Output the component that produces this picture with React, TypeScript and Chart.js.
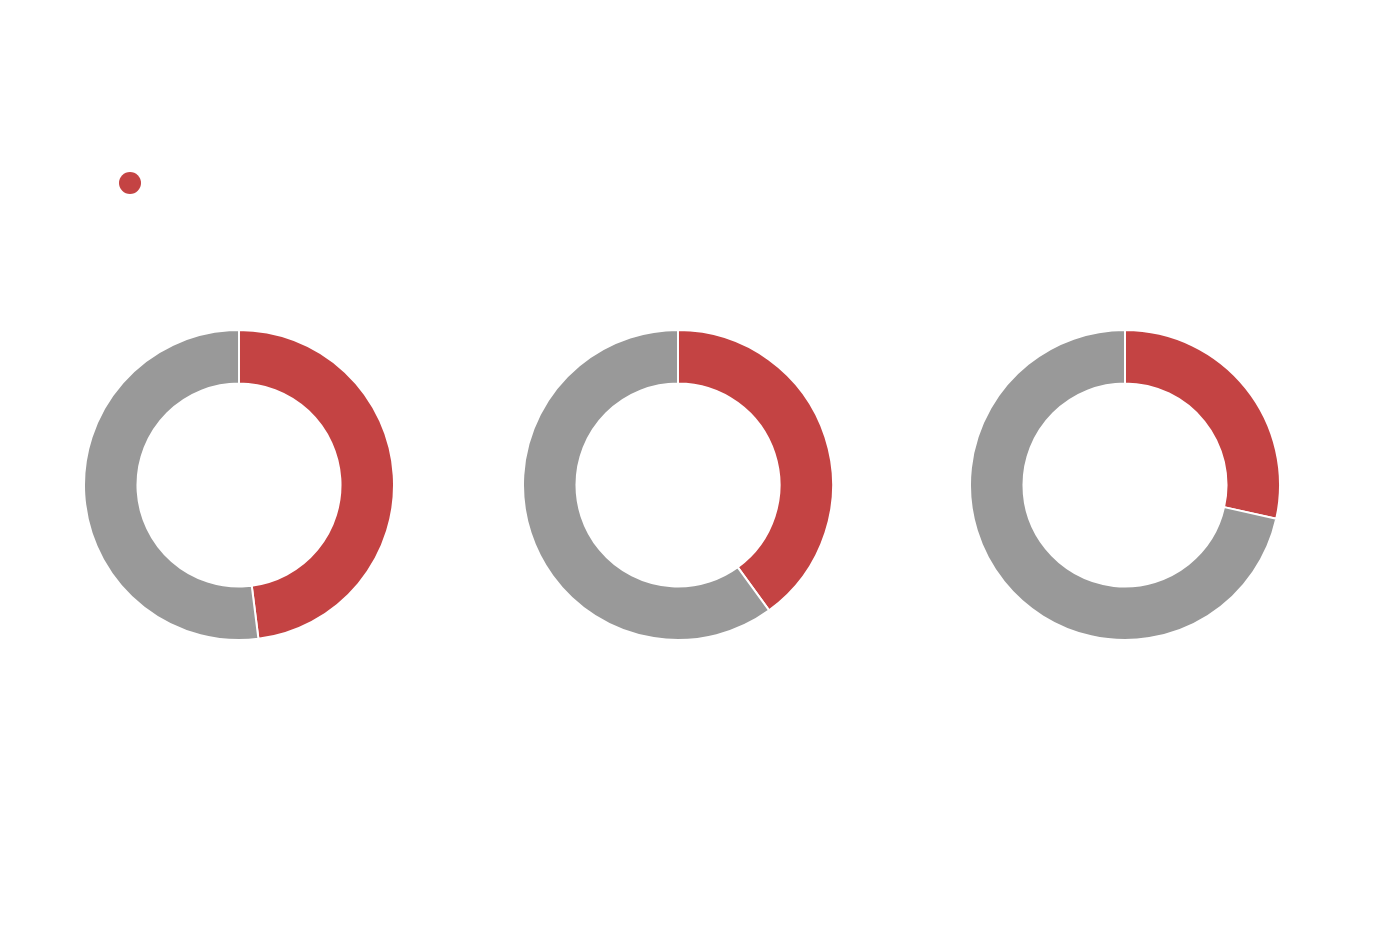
import React, { useEffect, useRef, useState } from "react";
import { Chart, registerables } from "chart.js";

Chart.register(...registerables);

const categories = ["", ""];
const chartValues = [
  [48, 52],
  [40, 60],
  [28.5, 71.5],
];
const colors = ["#C44343", "#999999"];

const centersX = [239, 678, 1125];
const centerY = 485;
const size = 312;

type LegendItem = { text: string; color: string };

function Donut({ values, left, onLegend }: { values: number[]; left: number; onLegend?: (items: LegendItem[]) => void }) {
  const ref = useRef<HTMLCanvasElement | null>(null);
  useEffect(() => {
    if (!ref.current) return;
    const chart = new Chart(ref.current, {
      type: "doughnut",
      data: {
        labels: categories,
        datasets: [
          {
            data: values,
            backgroundColor: colors,
            borderColor: "#ffffff",
            borderWidth: 2,
          },
        ],
      },
      options: {
        animation: false,
        responsive: false,
        maintainAspectRatio: false,
        cutout: "65.5%",
        plugins: { legend: { display: false }, tooltip: { enabled: false } },
      },
    });
    if (onLegend) {
      const gen = Chart.overrides.doughnut.plugins.legend.labels.generateLabels as any;
      const items = gen(chart).map((it: any) => ({ text: it.text, color: it.fillStyle }));
      onLegend(items.slice(0, 1));
    }
    return () => chart.destroy();
  }, []);
  return (
    <canvas
      ref={ref}
      width={size}
      height={size}
      style={{ position: "absolute", left, top: centerY - size / 2, width: size, height: size }}
    />
  );
}

export default function App() {
  const [legend, setLegend] = useState<LegendItem[]>([]);
  return (
    <div style={{ position: "fixed", left: 0, top: 0, width: 1400, height: 940, background: "#fff" }}>
      <div style={{ position: "absolute", left: 119, top: 172, display: "flex", alignItems: "center", fontFamily: "Roboto, sans-serif", fontSize: 16 }}>
        {legend.map((it, i) => (
          <div key={i} style={{ display: "flex", alignItems: "center" }}>
            <span style={{ display: "inline-block", width: 22, height: 22, borderRadius: "50%", background: it.color }} />
            <span style={{ marginLeft: 8 }}>{it.text}</span>
          </div>
        ))}
      </div>
      {chartValues.map((v, i) => (
        <Donut key={i} values={v} left={centersX[i] - size / 2} onLegend={i === 0 ? setLegend : undefined} />
      ))}
    </div>
  );
}
